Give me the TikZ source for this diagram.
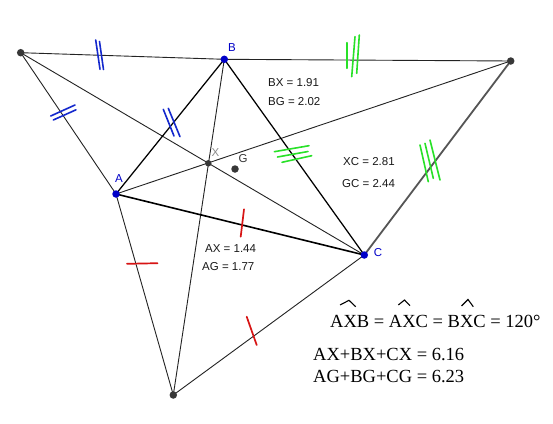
\documentclass[tikz,border=0pt]{standalone}
\usepackage{fontspec}
\setmainfont{Liberation Serif}
\setsansfont{Liberation Sans}
\definecolor{ptblue}{RGB}{0,0,200}
\definecolor{ptgray}{RGB}{55,55,55}
\definecolor{tkblue}{RGB}{20,40,205}
\definecolor{tkgreen}{RGB}{40,225,40}
\definecolor{tkred}{RGB}{215,20,20}
\definecolor{lngray}{RGB}{35,35,35}
\begin{document}
\begin{tikzpicture}[x=1pt,y=-1pt,
  thin line/.style={draw=lngray,line width=0.9pt},
  tri line/.style={draw=black,line width=1.25pt},
  thick gray/.style={draw=ptgray!85,line width=1.8pt},
  bdot/.style={circle,fill=ptblue,inner sep=0pt,minimum size=7.5pt},
  gdot/.style={circle,fill=ptgray,inner sep=0pt,minimum size=7.5pt},
  plab/.style={font=\sffamily\fontsize{11.5}{12}\selectfont,inner sep=0pt},
  val/.style={font=\sffamily\fontsize{11.5}{12}\selectfont,inner sep=0pt,anchor=west,text=black!90},
  eqn/.style={font=\fontsize{18.5}{20}\selectfont,inner sep=0pt,anchor=base west},
  tb/.style={draw=tkblue,line width=1.6pt,line cap=round},
  tg/.style={draw=tkgreen,line width=1.6pt,line cap=round},
  tr/.style={draw=tkred,line width=1.7pt,line cap=round},
  anghat/.style={draw=black,line width=1.1pt}]
\useasboundingbox[fill=white] (0,0) rectangle (553,423);

% points
\coordinate (P1) at (20.7,52.7);
\coordinate (B)  at (224.3,59.3);
\coordinate (P2) at (510.7,61);
\coordinate (A)  at (116,194);
\coordinate (X)  at (208.3,163.3);
\coordinate (G)  at (235,169);
\coordinate (C)  at (364.3,255);
\coordinate (P3) at (173.3,395);

% lines
\draw[thin line] (P1) -- (B);
\draw[thin line] (B) -- (P2);
\draw[thin line] (P1) -- (A);
\draw[thin line] (A) -- (P3);
\draw[thin line] (P3) -- (C);
\draw[thick gray] (C) -- (P2);
\draw[thin line] (P1) -- (C);
\draw[thin line] (P2) -- (A);
\draw[thin line] (P3) -- (B);
\draw[tri line] (A) -- (B);
\draw[tri line] (B) -- (C);
\draw[tri line,line width=1.6pt] (A) -- (C);

% equal-length tick marks
\draw[tb] (95.7,40) -- (100,69.3);
\draw[tb] (99.5,41.5) -- (103.5,69.5);
\draw[tb] (50.7,116) -- (75,105);
\draw[tb] (53.3,120) -- (76,109.8);
\draw[tb] (163.3,109.3) -- (174,136);
\draw[tb] (168.3,108.3) -- (180,136.7);

\draw[tg] (346.7,42.7) -- (346.7,68.3);
\draw[tg] (355,36.7) -- (351.7,76.7);
\draw[tg] (359.3,35) -- (356.7,73.3);
\draw[tg] (274.3,151.7) -- (309,145.7);
\draw[tg] (277.5,157) -- (308,151.5);
\draw[tg] (282,162.3) -- (311.7,155.7);
\draw[tg] (420,145) -- (428.3,181.7);
\draw[tg] (425,143.3) -- (433.3,178.3);
\draw[tg] (430,140) -- (440,180);

\draw[tr] (244,209.3) -- (240.7,236.7);
\draw[tr] (127,263.8) -- (157.5,263.2);
\draw[tr] (246.7,316.7) -- (256.7,345);

% dots
\node[gdot] (dP1) at (P1) {};
\node[gdot] (dP2) at (P2) {};
\node[gdot] (dP3) at (P3) {};
\node[gdot,minimum size=6.5pt] (dX) at (X) {};
\node[gdot] (dG) at (G) {};
\node[bdot] (dA) at (A) {};
\node[bdot] (dB) at (B) {};
\node[bdot] (dC) at (C) {};

% point labels
\node[plab,text=ptblue] (lA) at (119,179) {A};
\node[plab,text=ptblue] (lB) at (232,48) {B};
\node[plab,text=ptblue] (lC) at (378,253) {C};
\node[plab,text=black!45] (lX) at (215.5,152.5) {X};
\node[plab,text=ptgray] (lG) at (243,159) {G};

% measured values
\node[val] (bx) at (268,83) {BX = 1.91};
\node[val] (bg) at (268,102) {BG = 2.02};
\node[val] (xc) at (343,162) {XC = 2.81};
\node[val] (gc) at (342,183.5) {GC = 2.44};
\node[val] (ax) at (205,249) {AX = 1.44};
\node[val] (ag) at (202,267) {AG = 1.77};

% equations
\node[eqn] (ang) at (330,327) {AXB = AXC = BXC = 120°};
\node[eqn] (s1) at (313,360) {AX+BX+CX = 6.16};
\node[eqn] (s2) at (313,382) {AG+BG+CG = 6.23};

% angle hats
\draw[anghat] (340,305) -- (349,300.3) -- (355.7,306.7);
\draw[anghat] (398.3,305) -- (404.5,300) -- (410,305.7);
\draw[anghat] (461.5,306) -- (468,299.5) -- (473.3,306.7);
\end{tikzpicture}
\end{document}
